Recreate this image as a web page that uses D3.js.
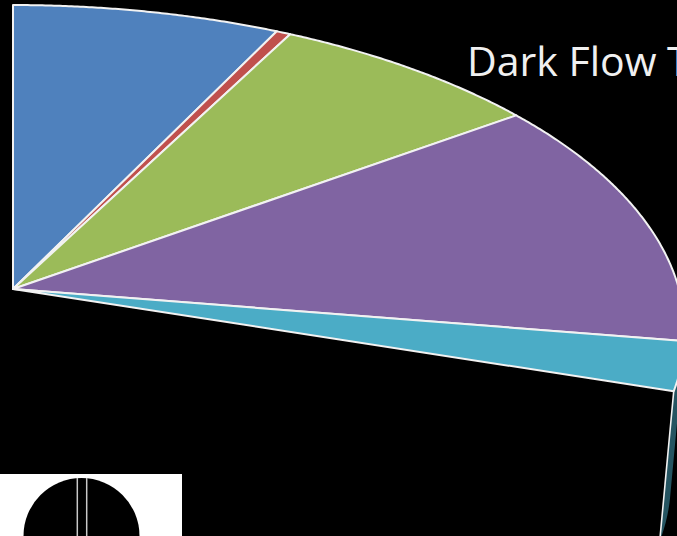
<!DOCTYPE html>
<html><head><meta charset="utf-8">
<script src="https://cdn.jsdelivr.net/npm/d3@7"></script>
<style>html,body{margin:0;padding:0;background:#000;overflow:hidden}</style>
</head><body>
<script>
// ---- data ----
const categories = ["Slice 1", "Slice 2", "Slice 3", "Slice 4", "Slice 5", "Remainder"];
const values = [7.30, 0.39, 7.43, 12.42, 2.40, 70.06];
const colors = ["#4F81BD", "#C0504D", "#9BBB59", "#8064A2", "#4BACC6", "none"];
const title = "Dark Flow T";

// ---- layout ----
const W = 677, H = 536;
const svg = d3.select("body").append("svg")
  .attr("width", W).attr("height", H)
  .style("display", "block").style("background", "#000");

// perspective projection of the pie disc (3D tilted pie)
const C = {x: 13, y: 289}, A = 666, B = 321.3, K = 0.1315;
const ext = {dx: -14, dy: 150}; // extrusion of the pie depth on screen
function proj(theta, t = 1) {
  const p = t * Math.sin(theta), q = t * Math.cos(theta);
  const w = 1 + K * q;
  return [C.x + A * p / w, C.y - B * q / w];
}
function down(pt) { return [pt[0] + ext.dx, pt[1] + ext.dy]; }
function arcPts(a0, a1) {
  const n = Math.max(2, Math.ceil((a1 - a0) * 200));
  return d3.range(n + 1).map(i => proj(a0 + (a1 - a0) * i / n));
}

const pie = d3.pie().sort(null).value(d => d.v);
const arcs = pie(categories.map((c, i) => ({c, v: values[i], col: colors[i]})));

// silhouette angles for the side wall
const s = ext.dx / ext.dy;
const grid = d3.range(0, 2 * Math.PI, 0.0005);
const score = a => { const P = proj(a); return P[0] - s * P[1]; };
const silR = grid.filter(a => a < Math.PI).reduce((b, a) => score(a) > score(b) ? a : b, 0);
const silL = grid.filter(a => a > Math.PI).reduce((b, a) => score(a) < score(b) ? a : b, Math.PI);

const line = d3.line();
const gSide = svg.append("g");
const gTop = svg.append("g");

arcs.forEach(a => {
  if (a.data.col === "none") return;
  const lo = Math.max(a.startAngle, silR), hi = Math.min(a.endAngle, silL);
  if (lo < hi) {
    const top = arcPts(lo, hi);
    const bot = top.map(down).reverse();
    gSide.append("path")
      .attr("d", line(top.concat(bot)) + "Z")
      .attr("fill", d3.color(a.data.col).darker(2))
      .attr("stroke", "none");
    const e = proj(hi);
    gSide.append("path")
      .attr("d", line([e, down(e)]))
      .attr("stroke", "#f2f2f2").attr("stroke-width", 1.6).attr("fill", "none");
  }
  const pts = [[C.x, C.y]].concat(arcPts(a.startAngle, a.endAngle));
  gTop.append("path")
    .attr("d", line(pts) + "Z")
    .attr("fill", a.data.col)
    .attr("stroke", "#f2f2f2")
    .attr("stroke-width", 2)
    .attr("stroke-linejoin", "round");
});

// title
svg.append("text")
  .attr("x", 467).attr("y", 76)
  .attr("font-family", "'Open Sans', sans-serif")
  .attr("font-size", 41)
  .attr("fill", "#f0f0f0")
  .text(title);

// small picture at bottom left
const pic = svg.append("g");
pic.append("rect").attr("x", 0).attr("y", 474).attr("width", 182).attr("height", 62).attr("fill", "#fff");
pic.append("circle").attr("cx", 81.5).attr("cy", 536).attr("r", 58).attr("fill", "#000");
[77.3, 86.7].forEach(x => {
  pic.append("line").attr("x1", x).attr("x2", x).attr("y1", 478).attr("y2", 536)
    .attr("stroke", "#c8c8c8").attr("stroke-width", 1.5);
});
</script>
</body></html>
